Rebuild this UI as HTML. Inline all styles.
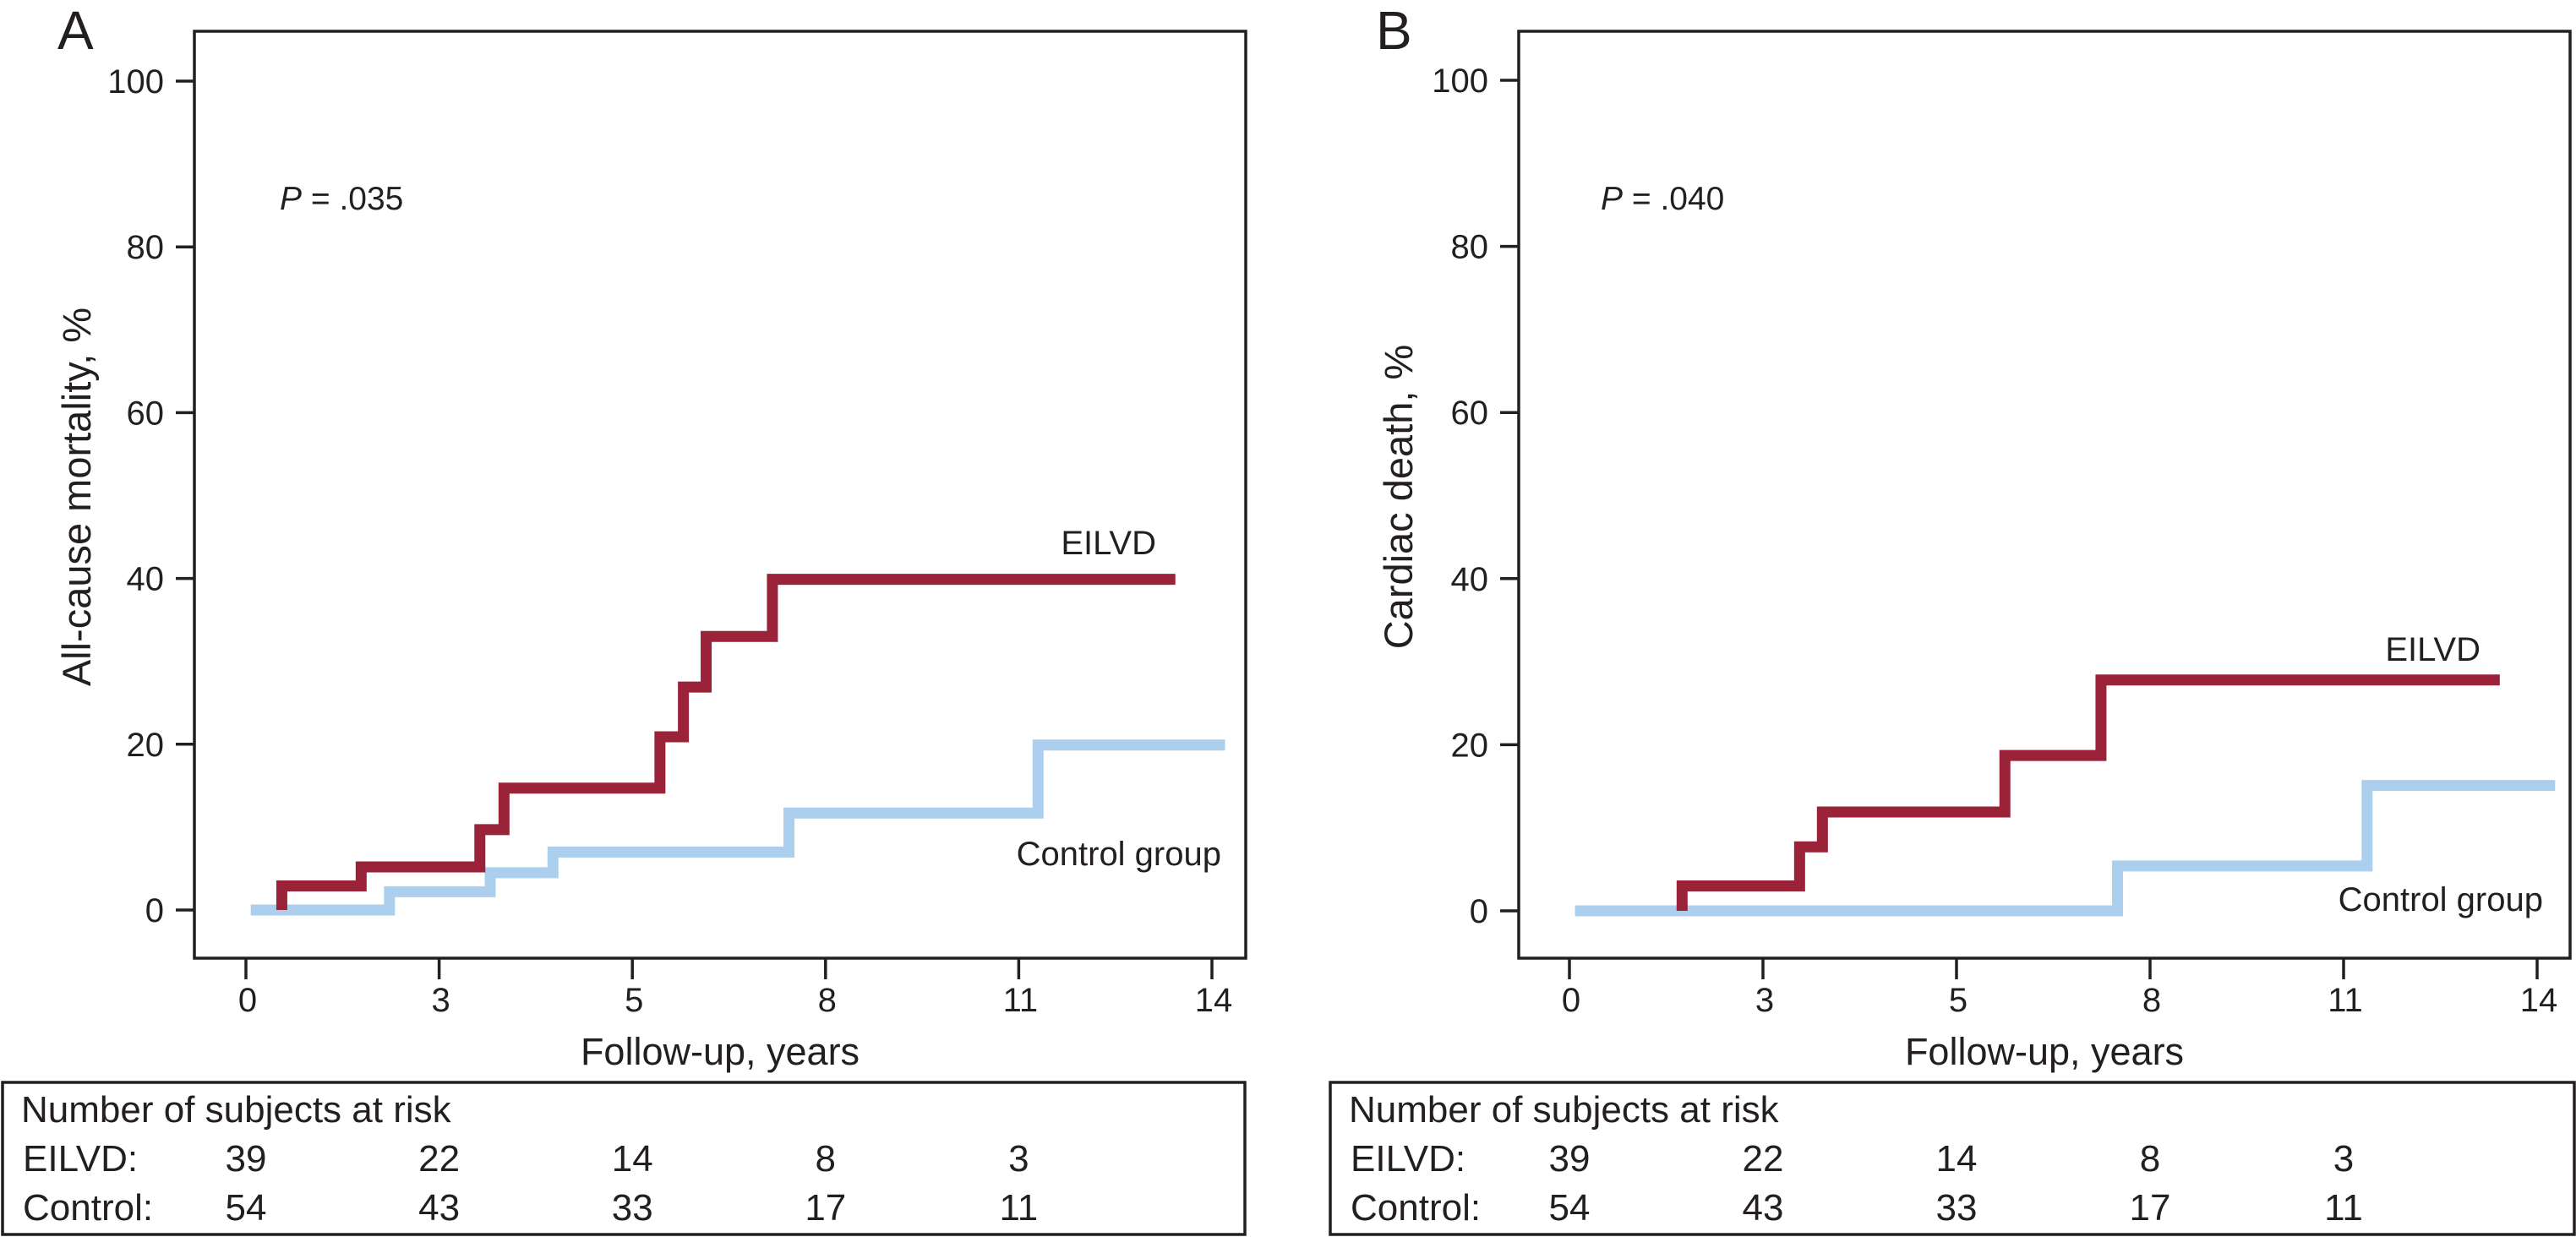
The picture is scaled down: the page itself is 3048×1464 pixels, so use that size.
<!DOCTYPE html>
<html>
<head>
<meta charset="utf-8">
<style>
html,body{margin:0;padding:0;background:#fff;}
svg{display:block;}
text{font-family:"Liberation Sans",Arial,sans-serif;fill:#231f20;}
</style>
</head>
<body>
<svg id="fig" width="3048" height="1464" viewBox="0 0 3048 1464" xmlns="http://www.w3.org/2000/svg"></svg>
<script>
// ---- data ----
const xTickValues = [0, 2.8, 5.6, 8.4, 11.2, 14];
const xTickLabels = ["0", "3", "5", "8", "11", "14"];
const yTickValues = [0, 20, 40, 60, 80, 100];
const riskEilvd = [39, 22, 14, 8, 3];
const riskControl = [54, 43, 33, 17, 11];

const aEilvdStart = 0.52;
const aEilvdTimes = [0.52, 1.67, 3.39, 3.74, 6.0, 6.34, 6.67, 7.63];
const aEilvdVals = [2.9, 5.2, 9.7, 14.7, 20.9, 26.9, 33.0, 39.9];
const aEilvdEnd = 13.47;
const aCtrlStart = 0.07;
const aCtrlTimes = [2.08, 3.54, 4.45, 7.87, 11.48];
const aCtrlVals = [2.2, 4.5, 7.0, 11.7, 19.9];
const aCtrlEnd = 14.19;

const bEilvdStart = 1.63;
const bEilvdTimes = [1.63, 3.33, 3.66, 6.3, 7.69];
const bEilvdVals = [3.0, 7.7, 11.9, 18.7, 27.8];
const bEilvdEnd = 13.46;
const bCtrlStart = 0.08;
const bCtrlTimes = [7.93, 11.54];
const bCtrlVals = [5.4, 15.1];
const bCtrlEnd = 14.26;

const NS = "http://www.w3.org/2000/svg";
const svg = document.getElementById("fig");
function mk(tag, attrs, parent, txt) {
  const e = document.createElementNS(NS, tag);
  for (const k in attrs) e.setAttribute(k, attrs[k]);
  if (txt !== undefined) e.textContent = txt;
  (parent || svg).appendChild(e);
  return e;
}

function panel(cfg) {
  const g = mk("g", {});
  
  
  const xs = t => cfg.x0 + (t / 14) * (cfg.x14 - cfg.x0);
  const ys = v => cfg.y0 - v * (cfg.y0 - cfg.y100) / 100;

  const lbl = mk("text", {x: cfg.letterX, y: 58, "font-size": 64}, g, cfg.letter);
  
  

  const box = mk("rect", {x: cfg.boxL, y: 37, width: cfg.boxR - cfg.boxL, height: 1134 - 37, fill: "none", stroke: "#231f20", "stroke-width": 3.5}, g);
  
  

  yTickValues.forEach(v => {
    const y = ys(v);
    const tk = mk("line", {x1: cfg.boxL - 22, x2: cfg.boxL, y1: y, y2: y, stroke: "#231f20", "stroke-width": 3.5}, g);
    
    
    const tl = mk("text", {x: cfg.boxL - 36, y: y + 14, "font-size": 40, "text-anchor": "end"}, g, String(v));
    
    
  });
  xTickValues.forEach((t, i) => {
    const x = xs(t);
    const tk = mk("line", {x1: x, x2: x, y1: 1134, y2: 1159, stroke: "#231f20", "stroke-width": 3.5}, g);
    
    
    const tl = mk("text", {x: x + 2, y: 1197, "font-size": 40, "text-anchor": "middle"}, g, xTickLabels[i]);
    
    
  });

  const yt = mk("text", {x: 0, y: 0, "font-size": 47, "text-anchor": "middle", transform: `translate(${cfg.yTitleX},588) rotate(-90)`}, g, cfg.yTitle);
  
  
  const xt = mk("text", {x: (cfg.boxL + cfg.boxR) / 2, y: 1260, "font-size": 45, "text-anchor": "middle"}, g, "Follow-up, years");
  
  

  const p = mk("text", {x: cfg.pX, y: 248, "font-size": 39}, g);
  const pi = mk("tspan", {"font-style": "italic"}, p, "P");
  mk("tspan", {}, p, " = " + cfg.p);
  
  

  function step(start, times, vals, end) {
    let d = `M${xs(start)},${ys(0)}`;
    let prev = 0;
    times.forEach((t, i) => {
      d += ` H${xs(t)} V${ys(vals[i])}`;
      prev = vals[i];
    });
    d += ` H${xs(end)}`;
    return d;
  }
  const c = mk("path", {d: step(cfg.cs, cfg.ct, cfg.cv, cfg.ce), fill: "none", stroke: "#abcfec", "stroke-width": 13, "stroke-linejoin": "miter", "stroke-linecap": "butt"}, g);
  
  
  const r = mk("path", {d: step(cfg.es, cfg.et, cfg.ev, cfg.ee), fill: "none", stroke: "#9b2339", "stroke-width": 13, "stroke-linejoin": "miter", "stroke-linecap": "butt"}, g);
  
  

  const el = mk("text", {x: cfg.eLabX, y: cfg.eLabY, "font-size": 40, "text-anchor": "end"}, g, "EILVD");
  
  
  const cl = mk("text", {x: cfg.cLabX, y: cfg.cLabY, "font-size": 40, "text-anchor": "end"}, g, "Control group");
  
  

  const tb = mk("rect", {x: cfg.tabL, y: 1281, width: cfg.tabR - cfg.tabL, height: 180, fill: "none", stroke: "#231f20", "stroke-width": 3.5}, g);
  
  
  const th = mk("text", {x: cfg.tabL + 22, y: 1328, "font-size": 44}, g, "Number of subjects at risk");
  
  
  const r1 = mk("text", {x: cfg.tabL + 24, y: 1386, "font-size": 44}, g, "EILVD:");
  
  
  const r2 = mk("text", {x: cfg.tabL + 24, y: 1444, "font-size": 44}, g, "Control:");
  
  
  riskEilvd.forEach((n, i) => {
    const t = mk("text", {x: xs(xTickValues[i]), y: 1386, "font-size": 44, "text-anchor": "middle"}, g, String(n));
    
    
  });
  riskControl.forEach((n, i) => {
    const t = mk("text", {x: xs(xTickValues[i]), y: 1444, "font-size": 44, "text-anchor": "middle"}, g, String(n));
    
    
  });
}

panel({name: "panel-a", letter: "A", letterX: 68, boxL: 230, boxR: 1474, x0: 291, x14: 1434, y0: 1077, y100: 96,
  yTitle: "All-cause mortality, %", yTitleX: 107, pX: 331, p: ".035",
  es: aEilvdStart, et: aEilvdTimes, ev: aEilvdVals, ee: aEilvdEnd,
  cs: aCtrlStart, ct: aCtrlTimes, cv: aCtrlVals, ce: aCtrlEnd,
  eLabX: 1368, eLabY: 656, cLabX: 1445, cLabY: 1024, tabL: 3, tabR: 1473});
panel({name: "panel-b", letter: "B", letterX: 1628, boxL: 1797, boxR: 3041, x0: 1857, x14: 3002, y0: 1078, y100: 95,
  yTitle: "Cardiac death, %", yTitleX: 1671, pX: 1894, p: ".040",
  es: bEilvdStart, et: bEilvdTimes, ev: bEilvdVals, ee: bEilvdEnd,
  cs: bCtrlStart, ct: bCtrlTimes, cv: bCtrlVals, ce: bCtrlEnd,
  eLabX: 2935, eLabY: 782, cLabX: 3009, cLabY: 1078, tabL: 1574, tabR: 3046});
</script>
</body>
</html>
